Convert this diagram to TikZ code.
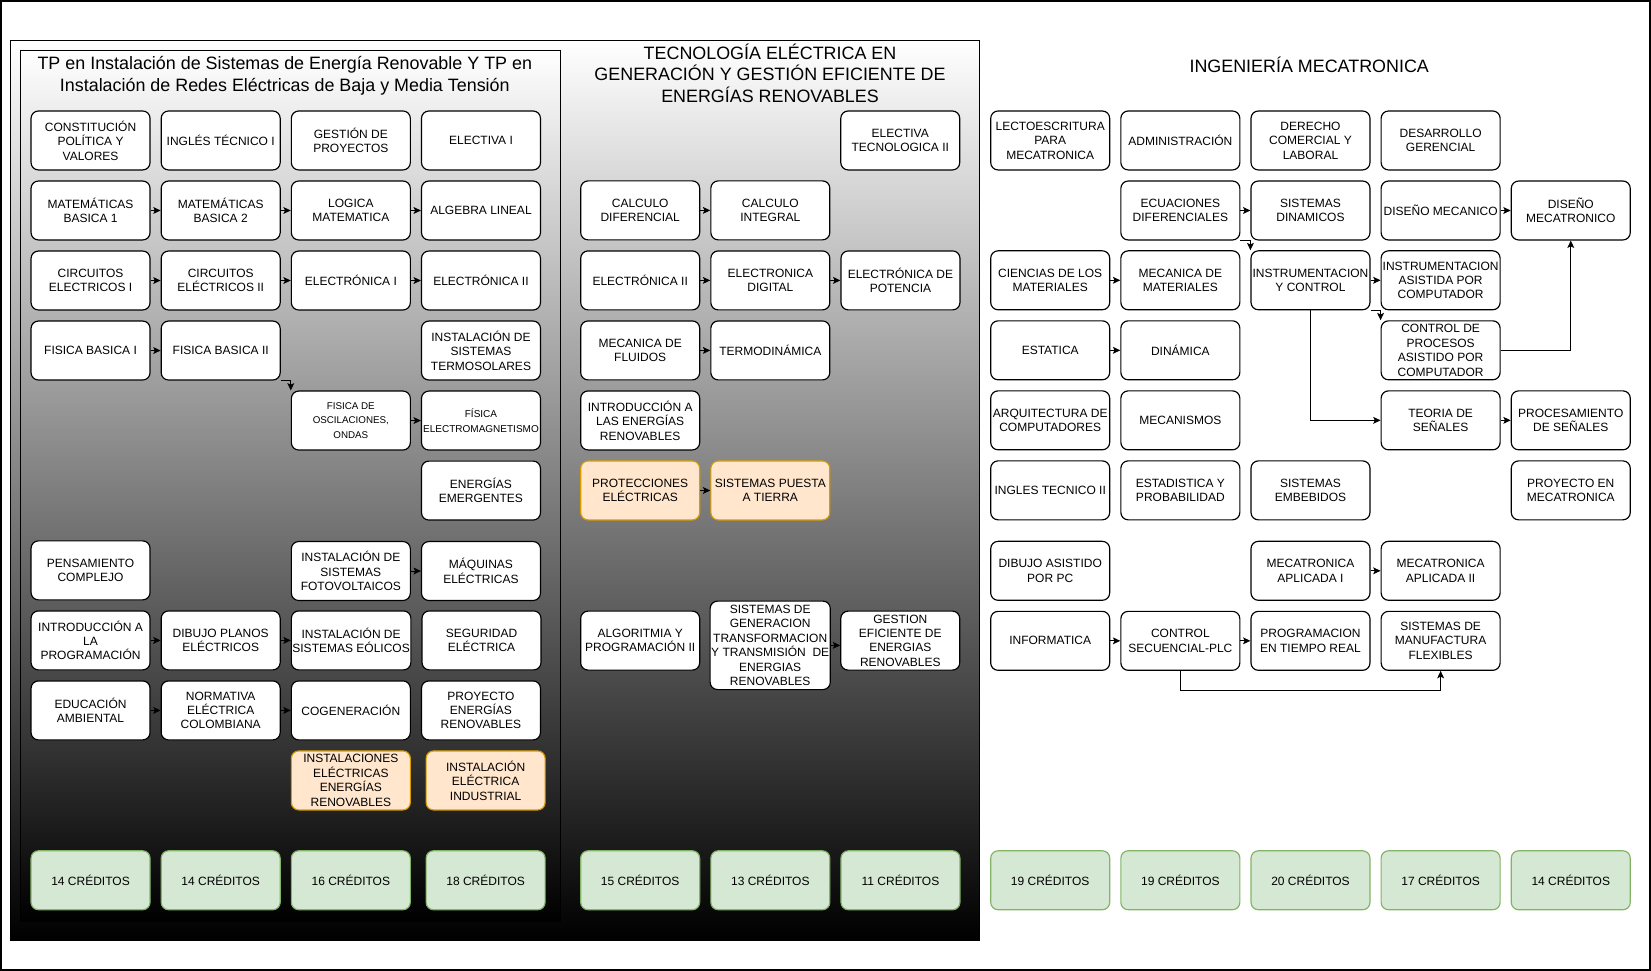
\documentclass[tikz,border=0pt]{standalone}
\usepackage{fontspec}
\setmainfont{Liberation Sans}
\usetikzlibrary{positioning,arrows.meta}
\definecolor{verde}{HTML}{D5E8D4}
\definecolor{verdeb}{HTML}{82B366}
\definecolor{naranja}{HTML}{FFE6CC}
\definecolor{naranjab}{HTML}{D79B00}

\begin{document}
\begin{tikzpicture}[x=1pt, y=-1pt, node distance={9.4pt and 9.5pt},
	box/.style = {draw, rounded corners=7pt, fill=white, line width=1.1pt, minimum width=113pt, minimum height=56pt, inner sep=1pt, align=center, font=\fontsize{11.4}{13.7}\selectfont},
	obox/.style = {box, draw=naranjab, fill=naranja},
	cred/.style = {box, draw=verdeb, fill=verde},
	titulo/.style = {align=center, font=\fontsize{17}{20.7}\selectfont},
	arr/.style = {-{Stealth[length=7pt,width=6.5pt,inset=1.5pt]}, line width=0.9pt}]
		\useasboundingbox (0,0) rectangle (1568,922);
		\draw[line width=1.5pt] (0.75,0.75) rectangle (1567.25,921.25);
		\draw[top color=white, bottom color=black, line width=0.9pt] (9.5,38) rectangle (930,893);
		\draw[top color=white, bottom color=black, line width=0.9pt] (19.4,47.5) rectangle (532.5,874.7);

		\node[titulo] (tptit) at (270.5,71.6) {TP en Instalación de Sistemas de Energía Renovable Y TP en\\Instalación de Redes Eléctricas de Baja y Media Tensión};
		\node[titulo] (tectit) at (731.3,69.6) {TECNOLOGÍA ELÉCTRICA EN\\GENERACIÓN Y GESTIÓN EFICIENTE DE\\ENERGÍAS RENOVABLES};
		\node[titulo] (mectit) at (1243.4,61.7) {INGENIERÍA MECATRONICA};

		\node[box] (const) at (86,133.4) {CONSTITUCIÓN\\POLÍTICA Y\\VALORES};
		\node[box] (ing1) [right=of const] {INGLÉS TÉCNICO I};
		\node[box] (gest) [right=of ing1] {GESTIÓN DE\\PROYECTOS};
		\node[box] (eleci) [right=of gest] {ELECTIVA I};
		\node[box] (mat1) [below=of const] {MATEMÁTICAS\\BASICA 1};
		\node[box] (mat2) [right=of mat1] {MATEMÁTICAS\\BASICA 2};
		\node[box] (logica) [right=of mat2] {LOGICA\\MATEMATICA};
		\node[box] (algebra) [right=of logica] {ALGEBRA LINEAL};
		\node[box] (circ1) [below=of mat1] {CIRCUITOS\\ELECTRICOS I};
		\node[box] (circ2) [right=of circ1] {CIRCUITOS\\ELÉCTRICOS II};
		\node[box] (etr1) [right=of circ2] {ELECTRÓNICA I};
		\node[box] (etr2) [right=of etr1] {ELECTRÓNICA II};
		\node[box] (fis1) [below=of circ1] {FISICA BASICA I};
		\node[box] (fis2) [right=of fis1] {FISICA BASICA II};
		\node[box] (termsol) [below=of etr2] {INSTALACIÓN DE\\SISTEMAS\\TERMOSOLARES};
		\node[box, font=\fontsize{9.5}{14}\selectfont] (fem) [below=of termsol] {FÍSICA\\ELECTROMAGNETISMO};
		\node[box, font=\fontsize{9.3}{13.6}\selectfont] (osc) [left=of fem] {FISICA DE\\OSCILACIONES,\\ONDAS};
		\node[box] (emerg) [below=of fem] {ENERGÍAS\\EMERGENTES};
		\node[box] (maq) [below=19.3pt of emerg] {MÁQUINAS\\ELÉCTRICAS};
		\node[box] (fotov) [left=of maq] {INSTALACIÓN DE\\SISTEMAS\\FOTOVOLTAICOS};
		\node[box] (pens) at (86,541.7) {PENSAMIENTO\\COMPLEJO};
		\node[box] (introp) [below=of pens] {INTRODUCCIÓN A\\LA\\PROGRAMACIÓN};
		\node[box] (dibujo) [right=of introp] {DIBUJO PLANOS\\ELÉCTRICOS};
		\node[box] (eolic) [right=of dibujo] {INSTALACIÓN DE\\SISTEMAS EÓLICOS};
		\node[box] (segur) [right=of eolic] {SEGURIDAD\\ELÉCTRICA};
		\node[box] (educ) [below=of introp] {EDUCACIÓN\\AMBIENTAL};
		\node[box] (norma) [right=of educ] {NORMATIVA\\ELÉCTRICA\\COLOMBIANA};
		\node[box] (cogen) [right=of norma] {COGENERACIÓN};
		\node[box] (proyer) [right=of cogen] {PROYECTO\\ENERGÍAS\\RENOVABLES};
		\node[obox] (ieer) [below=of cogen] {INSTALACIONES\\ELÉCTRICAS\\ENERGÍAS\\RENOVABLES};
		\node[obox] (iei) [right=13.9pt of ieer] {INSTALACIÓN\\ELÉCTRICA\\INDUSTRIAL};
		\node[cred] (cr1) at (86,836) {14 CRÉDITOS};
		\node[cred] (cr2) [right=of cr1] {14 CRÉDITOS};
		\node[cred] (cr3) [right=of cr2] {16 CRÉDITOS};
		\node[cred] (cr4) [right=13.9pt of cr3] {18 CRÉDITOS};

		\node[box] (electec) at (855,133.4) {ELECTIVA\\TECNOLOGICA II};
		\node[box] (cdif) at (608,199.8) {CALCULO\\DIFERENCIAL};
		\node[box] (cint) [right=of cdif] {CALCULO\\INTEGRAL};
		\node[box] (etr2t) [below=of cdif] {ELECTRÓNICA II};
		\node[box] (edig) [right=of etr2t] {ELECTRONICA\\DIGITAL};
		\node[box] (epot) [right=of edig] {ELECTRÓNICA DE\\POTENCIA};
		\node[box] (mfl) [below=of etr2t] {MECANICA DE\\FLUIDOS};
		\node[box] (termo) [right=of mfl] {TERMODINÁMICA};
		\node[box] (intro) [below=of mfl] {INTRODUCCIÓN A\\LAS ENERGÍAS\\RENOVABLES};
		\node[obox] (prot) [below=of intro] {PROTECCIONES\\ELÉCTRICAS};
		\node[obox] (tierra) [right=of prot] {SISTEMAS PUESTA\\A TIERRA};
		\node[box] (algo) at (608,608.4) {ALGORITMIA Y\\PROGRAMACIÓN II};
		\node[box, minimum height=84pt] (sgt) at (731.5,612.9) {SISTEMAS DE\\GENERACION\\TRANSFORMACION\\Y TRANSMISIÓN\ \ DE\\ENERGIAS\\RENOVABLES};
		\node[box] (gef) at (855,608.4) {GESTION\\EFICIENTE DE\\ENERGIAS\\RENOVABLES};
		\node[cred] (cr5) at (608,836) {15 CRÉDITOS};
		\node[cred] (cr6) [right=of cr5] {13 CRÉDITOS};
		\node[cred] (cr7) [right=of cr6] {11 CRÉDITOS};

		\node[box] (lecto) at (997.4,133.4) {LECTOESCRITURA\\PARA\\MECATRONICA};
		\node[box] (admin) [right=of lecto] {ADMINISTRACIÓN};
		\node[box] (derecho) [right=of admin] {DERECHO\\COMERCIAL Y\\LABORAL};
		\node[box] (desarr) [right=of derecho] {DESARROLLO\\GERENCIAL};
		\node[box] (ecu) [below=of admin] {ECUACIONES\\DIFERENCIALES};
		\node[box] (sdin) [right=of ecu] {SISTEMAS\\DINAMICOS};
		\node[box] (dmec) [right=of sdin] {DISEÑO MECANICO};
		\node[box] (dmeca) [right=of dmec] {DISEÑO\\MECATRONICO};
		\node[box] (cmat) at (997.4,266.2) {CIENCIAS DE LOS\\MATERIALES};
		\node[box] (mmat) [right=of cmat] {MECANICA DE\\MATERIALES};
		\node[box] (instr) [right=of mmat] {INSTRUMENTACION\\Y CONTROL};
		\node[box] (iac) [right=of instr] {INSTRUMENTACION\\ASISTIDA POR\\COMPUTADOR};
		\node[box] (estat) [below=of cmat] {ESTATICA};
		\node[box] (dinam) [right=of estat] {DINÁMICA};
		\node[box] (cproc) [below=of iac] {CONTROL DE\\PROCESOS\\ASISTIDO POR\\COMPUTADOR};
		\node[box] (arq) [below=of estat] {ARQUITECTURA DE\\COMPUTADORES};
		\node[box] (mecan) [right=of arq] {MECANISMOS};
		\node[box] (teoria) [below=of cproc] {TEORIA DE\\SEÑALES};
		\node[box] (procs) [right=of teoria] {PROCESAMIENTO\\DE SEÑALES};
		\node[box] (ingl2) [below=of arq] {INGLES TECNICO II};
		\node[box] (estad) [right=of ingl2] {ESTADISTICA Y\\PROBABILIDAD};
		\node[box] (embeb) [right=of estad] {SISTEMAS\\EMBEBIDOS};
		\node[box] (proym) [below=of procs] {PROYECTO EN\\MECATRONICA};
		\node[box] (dibpc) [below=19.3pt of ingl2] {DIBUJO ASISTIDO\\POR PC};
		\node[box] (mapl1) [below=19.3pt of embeb] {MECATRONICA\\APLICADA I};
		\node[box] (mapl2) [right=of mapl1] {MECATRONICA\\APLICADA II};
		\node[box] (inform) [below=of dibpc] {INFORMATICA};
		\node[box] (ctrl) [right=of inform] {CONTROL\\SECUENCIAL-PLC};
		\node[box] (ptr) [right=of ctrl] {PROGRAMACION\\EN TIEMPO REAL};
		\node[box] (smf) [right=of ptr] {SISTEMAS DE\\MANUFACTURA\\FLEXIBLES};
		\node[cred] (cr8) at (997.4,836) {19 CRÉDITOS};
		\node[cred] (cr9) [right=of cr8] {19 CRÉDITOS};
		\node[cred] (cr10) [right=of cr9] {20 CRÉDITOS};
		\node[cred] (cr11) [right=of cr10] {17 CRÉDITOS};
		\node[cred] (cr12) [right=of cr11] {14 CRÉDITOS};

		\draw[arr] (mat1) -- (mat2);
		\draw[arr] (mat2) -- (logica);
		\draw[arr] (logica) -- (algebra);
		\draw[arr] (circ1) -- (circ2);
		\draw[arr] (circ2) -- (etr1);
		\draw[arr] (etr1) -- (etr2);
		\draw[arr] (fis1) -- (fis2);
		\draw[arr] (fis2.south east) -| (osc.north west);
		\draw[arr] (osc) -- (fem);
		\draw[arr] (fotov) -- (maq);
		\draw[arr] (introp) -- (dibujo);
		\draw[arr] (dibujo) -- (eolic);
		\draw[arr] (educ) -- (norma);
		\draw[arr] (norma) -- (cogen);

		\draw[arr] (cdif) -- (cint);
		\draw[arr] (etr2t) -- (edig);
		\draw[arr] (edig) -- (epot);
		\draw[arr] (mfl) -- (termo);
		\draw[arr] (prot) -- (tierra);
		\draw[arr] (sgt.east) -- (sgt.east -| gef.west);

		\draw[arr] (ecu) -- (sdin);
		\draw[arr] (ecu.south east) -| (instr.north west);
		\draw[arr] (dmec) -- (dmeca);
		\draw[arr] (cmat) -- (mmat);
		\draw[arr] (instr) -- (iac);
		\draw[arr] (instr.south east) -| (cproc.north west);
		\draw[arr] (instr) |- (teoria);
		\draw[arr] (cproc) -| (dmeca);
		\draw[arr] (estat) -- (dinam);
		\draw[arr] (teoria) -- (procs);
		\draw[arr] (mapl1) -- (mapl2);
		\draw[arr] (inform) -- (ctrl);
		\draw[arr] (ctrl) -- (ptr);
		\draw[arr] (ctrl.south) -- ++(0,19) -| (smf.south);
\end{tikzpicture}
\end{document}
